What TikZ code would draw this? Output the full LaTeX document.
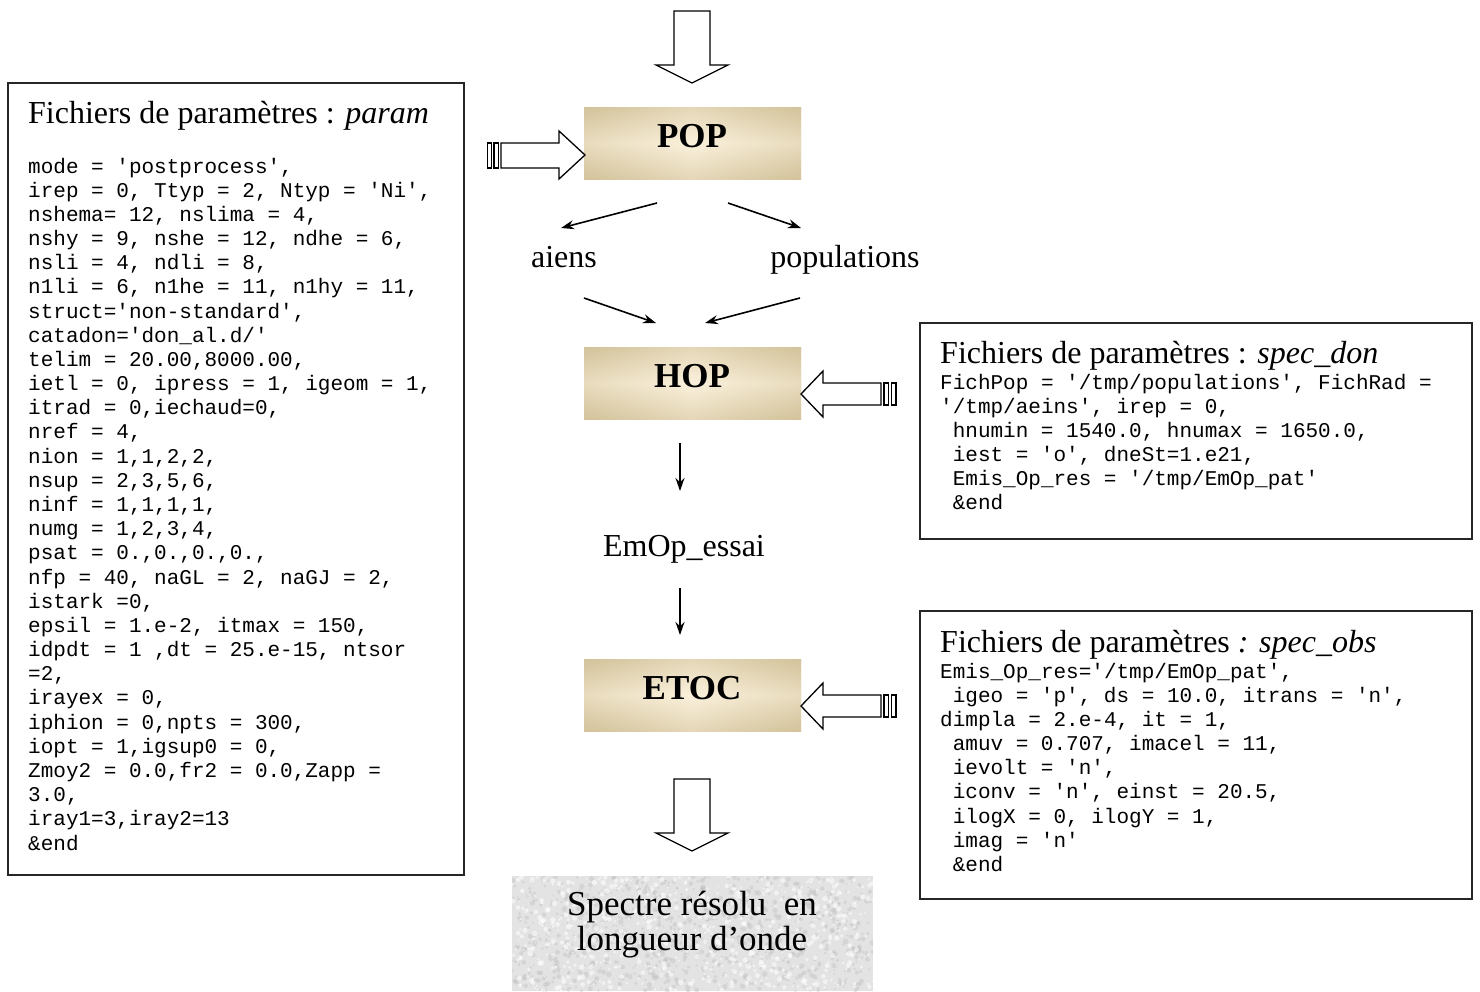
\documentclass[tikz,border=0pt]{standalone}
\usepackage{fontspec}
\setmainfont{Liberation Serif}
\setmonofont{Liberation Mono}
\usetikzlibrary{arrows.meta}
\definecolor{boxedge}{HTML}{D3C39B}
\definecolor{boxmid}{HTML}{FBF1DC}
\newcommand{\codesize}{\ttfamily\fontsize{21}{24.18}\selectfont}
\newcommand{\monosp}{\spaceskip=12.6pt\relax\xspaceskip=12.6pt\relax}
\tikzset{
  frame/.style={draw=black!85, line width=1.4pt},
  title/.style={anchor=base west, inner sep=0pt, font=\fontsize{32}{38}\selectfont},
  code/.style={anchor=base west, inner sep=0pt, text width=530pt, align=left,
    font=\codesize},
  lbl/.style={inner sep=0pt, font=\fontsize{32}{38}\selectfont},
  biglbl/.style={inner sep=0pt, font=\fontsize{35}{40}\selectfont},
  proc/.style={inner sep=0pt, font=\bfseries\fontsize{35}{40}\selectfont},
  blockarrow/.style={draw=black, line width=1.3pt, fill=white, line join=miter},
  flow/.style={-{Stealth[length=13pt,width=9pt]}, line width=1.6pt},
}
\begin{document}
\begin{tikzpicture}[x=1pt,y=-1pt]
\useasboundingbox (0,0) rectangle (1480,991);
\fill[white] (0,0) rectangle (1480,991);

% process boxes with gradient
\foreach \n/\y in {POP/107,HOP/347,ETOC/659}{
  \shade[left color=boxedge, right color=boxedge, middle color=boxmid] (584,\y) rectangle (801,\y+72);
  \shade[top color=boxedge, bottom color=boxedge, middle color=boxmid, opacity=0.55] (584,\y) rectangle (801,\y+72);
}
\node[proc, anchor=base] (pop) at (692,147) {POP};
\node[proc, anchor=base] (hop) at (692,387) {HOP};
\node[proc, anchor=base] (etoc) at (692,699) {ETOC};

% top and bottom block arrows
\draw[blockarrow] (674,11) -- (710,11) -- (710,65) -- (728,65) -- (692,83) -- (656,65) -- (674,65) -- cycle;
\draw[blockarrow] (674,779) -- (710,779) -- (710,833) -- (728,833) -- (692,851) -- (656,833) -- (674,833) -- cycle;

% striped arrow into POP
\draw[blockarrow] (487.5,143) rectangle (491.5,168);
\draw[blockarrow] (494,143) rectangle (498.5,168);
\draw[blockarrow] (501,143) -- (559,143) -- (559,131) -- (585,155) -- (559,179) -- (559,168) -- (501,168) -- cycle;

% striped arrows into HOP and ETOC
\foreach \dy in {0,312}{
  \begin{scope}[yshift=-\dy pt]
  \draw[blockarrow] (896,383) rectangle (891.5,405);
  \draw[blockarrow] (888.5,383) rectangle (884,405);
  \draw[blockarrow] (881,383) -- (823,383) -- (823,371) -- (801,394) -- (823,417) -- (823,405) -- (881,405) -- cycle;
  \end{scope}
}

% labels
\node[lbl, anchor=base] (aiens) at (564,267) {aiens};
\node[lbl, anchor=base] (populations) at (845,267) {populations};
\node[lbl, anchor=base] (emop) at (684,556) {EmOp\_essai};

% flow arrows
\coordinate (a1s) at (657,203); \coordinate (a1e) at (561,228);
\coordinate (a2s) at (728,203); \coordinate (a2e) at (801,228);
\coordinate (a3s) at (584,298); \coordinate (a3e) at (656,323);
\coordinate (a4s) at (800,298); \coordinate (a4e) at (705,323);
\coordinate (a5s) at (680,443); \coordinate (a5e) at (680,491);
\coordinate (a6s) at (680,588); \coordinate (a6e) at (680,635);
\draw[flow] (a1s) -- (a1e);
\draw[flow] (a2s) -- (a2e);
\draw[flow] (a3s) -- (a3e);
\draw[flow] (a4s) -- (a4e);
\draw[flow] (a5s) -- (a5e);
\draw[flow] (a6s) -- (a6e);

% result box with granite-like texture
\begin{scope}
\clip (512,876) rectangle (873,991);
\fill[black!11] (512,876) rectangle (873,991);
\pgfmathsetseed{7}
\foreach \i in {1,...,900}{
  \fill[black!25, opacity=0.4] ({512+361*rnd},{876+115*rnd}) circle ({0.8+2*rnd});
}
\foreach \i in {1,...,700}{
  \fill[white, opacity=0.55] ({512+361*rnd},{876+115*rnd}) circle ({0.8+2*rnd});
}
\end{scope}
\node[biglbl, anchor=base] (spectre) at (692,915) {Spectre résolu\ \ en};
\node[biglbl, anchor=base] (spectre2) at (692,950) {longueur d’onde};

% parameter files
\draw[frame] (8,83) rectangle (464,875);
\node[title] (paramtitle) at (28,123) {Fichiers de paramètres : \textit{param}};
\node[code] (param) at (28,173) {\monosp mode = 'postprocess',\\
irep = 0, Ttyp = 2, Ntyp = 'Ni',\\
nshema= 12, nslima = 4,\\
nshy = 9, nshe = 12, ndhe = 6,\\
nsli = 4, ndli = 8,\\
n1li = 6, n1he = 11, n1hy = 11,\\
struct='non-standard',\\
catadon='don\_al.d/'\\
telim = 20.00,8000.00,\\
ietl = 0, ipress = 1, igeom = 1,\\
itrad = 0,iechaud=0,\\
nref = 4,\\
nion = 1,1,2,2,\\
nsup = 2,3,5,6,\\
ninf = 1,1,1,1,\\
numg = 1,2,3,4,\\
psat = 0.,0.,0.,0.,\\
nfp = 40, naGL = 2, naGJ = 2,\\
istark =0,\\
epsil = 1.e-2, itmax = 150,\\
idpdt = 1 ,dt = 25.e-15, ntsor\\
=2,\\
irayex = 0,\\
iphion = 0,npts = 300,\\
iopt = 1,igsup0 = 0,\\
Zmoy2 = 0.0,fr2 = 0.0,Zapp =\\
3.0,\\
iray1=3,iray2=13\\
\&end};

\draw[frame] (920,323) rectangle (1472,539);
\node[title] (dontitle) at (940,363) {Fichiers de paramètres : \textit{spec\_don}};
\node[code] (specdon) at (940,389) {\monosp FichPop = '/tmp/populations', FichRad =\\
'/tmp/aeins', irep = 0,\\
~hnumin = 1540.0, hnumax = 1650.0,\\
~iest = 'o', dneSt=1.e21,\\
~Emis\_Op\_res = '/tmp/EmOp\_pat'\\
~\&end};

\draw[frame] (920,611) rectangle (1472,899);
\node[title] (obstitle) at (940,652) {Fichiers de paramètres \textit{: spec\_obs}};
\node[code] (specobs) at (940,678) {\monosp Emis\_Op\_res='/tmp/EmOp\_pat',\\
~igeo = 'p', ds = 10.0, itrans = 'n',\\
dimpla = 2.e-4, it = 1,\\
~amuv = 0.707, imacel = 11,\\
~ievolt = 'n',\\
~iconv = 'n', einst = 20.5,\\
~ilogX = 0, ilogY = 1,\\
~imag = 'n'\\
~\&end};
\end{tikzpicture}
\end{document}
